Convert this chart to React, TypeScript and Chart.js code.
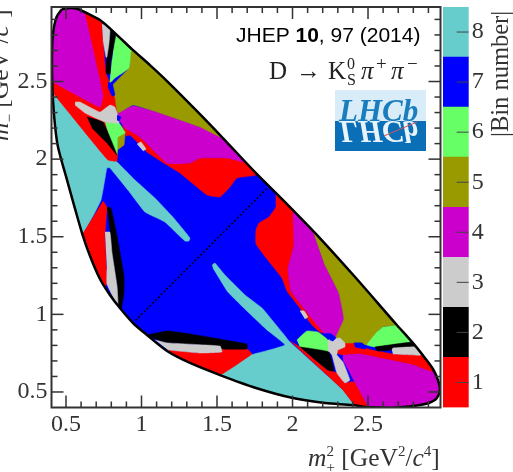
import React, { useEffect, useRef } from "react";
import { Chart, registerables } from "chart.js";

type P = [number, number];

const boundary: P[] = [[0.474,2.967],[0.526,2.973],[0.579,2.967],[0.626,2.947],[0.725,2.896],[0.824,2.812],[0.944,2.702],[1.056,2.606],[1.169,2.503],[1.387,2.290],[1.539,2.136],[1.758,1.910],[1.970,1.704],[2.175,1.498],[2.420,1.234],[2.685,0.938],[2.797,0.816],[2.877,0.719],[2.930,0.648],[2.963,0.577],[2.976,0.519],[2.956,0.461],[2.903,0.429],[2.797,0.410],[2.645,0.397],[2.486,0.403],[2.400,0.416],[2.215,0.429],[2.003,0.461],[1.758,0.526],[1.520,0.609],[1.321,0.687],[1.169,0.764],[1.036,0.867],[0.944,0.944],[0.857,1.041],[0.791,1.125],[0.725,1.228],[0.659,1.376],[0.606,1.524],[0.553,1.704],[0.507,1.865],[0.447,2.078],[0.427,2.219],[0.414,2.380],[0.407,2.593],[0.412,2.790],[0.437,2.915],[0.474,2.967]];
const diagonal: P[] = [[0.96,0.96],[1.84,1.82]];

const cyanLeft: P[] = [[0.328,2.445],[0.414,2.426],[0.573,2.252],[0.778,2.001],[0.824,1.994],[0.957,1.865],[1.089,1.749],[1.202,1.633],[1.321,1.492],[1.314,1.472],[1.288,1.472],[1.155,1.595],[1.023,1.659],[0.910,1.801],[0.791,1.943],[0.771,1.943],[0.732,1.736],[0.613,1.524],[0.460,1.524]];
const cyanLower: P[] = [[1.467,1.318],[1.486,1.331],[1.553,1.253],[1.685,1.125],[1.798,1.041],[1.930,0.886],[1.983,0.822],[2.334,0.513],[2.413,0.410],[2.413,0.371],[1.917,0.416],[1.520,0.545],[1.520,0.609],[1.731,0.745],[1.718,0.738],[1.950,0.803],[1.831,0.899],[1.705,1.015],[1.572,1.144],[1.473,1.299]];

const redUpperLeft: P[] = [[0.328,2.426],[0.328,2.522],[0.626,3.0],[0.738,2.928],[0.738,2.870],[0.765,2.554],[0.824,2.413],[0.844,2.284],[0.838,1.988],[0.778,1.994],[0.414,2.426]];
const redBandUpper: P[] = [[0.871,2.219],[0.990,2.142],[1.169,1.975],[1.321,1.975],[1.387,2.007],[1.566,2.007],[1.705,1.975],[1.798,1.943],[1.758,1.897],[1.632,1.878],[1.586,1.820],[1.520,1.756],[1.433,1.769],[1.255,1.910],[1.169,1.962],[1.036,2.046],[0.924,2.155],[0.897,2.149]];
const redBandRight: P[] = [[1.870,1.865],[2.023,1.704],[2.009,1.440],[1.970,1.292],[1.990,1.150],[2.089,1.022],[2.208,0.880],[2.181,0.886],[2.129,0.931],[2.049,1.041],[1.963,1.150],[1.930,1.234],[1.857,1.324],[1.758,1.453],[1.758,1.543],[1.778,1.588],[1.844,1.627],[1.890,1.691],[1.890,1.769]];
const redLowerLeft: P[] = [[0.745,1.730],[0.771,1.691],[0.758,1.505],[0.771,1.196],[0.725,1.157],[0.526,1.505],[0.613,1.524]];
const redLowerMid: P[] = [[1.175,0.770],[1.387,0.751],[1.533,0.758],[1.533,0.777],[1.698,0.777],[1.731,0.745],[1.520,0.609],[1.354,0.609]];
const redLowerRight: P[] = [[1.983,0.828],[2.049,0.790],[2.135,0.719],[2.234,0.642],[2.281,0.629],[2.294,0.622],[2.347,0.558],[2.380,0.564],[2.413,0.564],[2.499,0.410],[2.526,0.371],[2.413,0.371],[2.413,0.410],[2.334,0.513]];
const redStripRight: P[] = [[2.347,0.816],[2.400,0.816],[2.499,0.777],[2.559,0.764],[2.665,0.745],[2.857,0.738],[2.976,0.674],[2.923,0.629],[2.797,0.674],[2.579,0.719],[2.446,0.745],[2.334,0.738],[2.294,0.751],[2.301,0.777],[2.347,0.790]];

const magentaTop: P[] = [[0.328,2.535],[0.414,2.496],[0.725,2.335],[0.745,2.413],[0.626,2.928],[0.593,3.02],[0.328,3.02]];
const magentaUpper: P[] = [[0.844,2.297],[0.944,2.342],[1.102,2.303],[1.387,2.207],[1.539,2.149],[1.731,1.994],[1.705,1.975],[1.566,2.007],[1.387,2.007],[1.321,1.975],[1.169,1.975],[0.990,2.142],[0.891,2.200],[0.851,2.252]];
const magentaRight: P[] = [[1.996,1.685],[2.122,1.569],[2.208,1.331],[2.307,1.138],[2.340,0.970],[2.287,0.848],[2.254,0.880],[2.208,0.880],[2.089,1.022],[1.990,1.150],[1.970,1.292],[2.009,1.440],[2.003,1.653]];
const magentaCorner: P[] = [[2.334,0.738],[2.446,0.745],[2.579,0.719],[2.797,0.674],[2.923,0.629],[3.04,0.629],[3.04,0.352],[2.526,0.352],[2.499,0.410],[2.413,0.564],[2.334,0.706]];

const oliveUpper: P[] = [[0.957,2.735],[1.572,2.168],[1.539,2.136],[1.387,2.207],[1.122,2.297],[0.944,2.348],[0.844,2.297],[0.824,2.400],[0.811,2.477],[0.917,2.587],[0.930,2.702]];
const oliveSmallA: P[] = [[0.844,2.155],[0.891,2.181],[0.884,2.091],[0.838,2.058]];
const oliveRight: P[] = [[2.122,1.569],[2.724,0.964],[2.685,0.931],[2.599,0.919],[2.559,0.886],[2.493,0.803],[2.407,0.816],[2.347,0.816],[2.287,0.848],[2.340,0.970],[2.307,1.138],[2.208,1.331]];
const oliveSmallB: P[] = [[2.069,0.854],[2.102,0.886],[2.148,0.880],[2.155,0.854],[2.115,0.835]];

const greenTop: P[] = [[0.824,2.799],[0.824,2.844],[0.944,2.728],[0.930,2.690],[0.917,2.587],[0.824,2.522],[0.791,2.490],[0.805,2.638]];
const greenCentre: P[] = [[0.758,2.239],[0.851,2.232],[0.891,2.168],[0.844,2.142],[0.838,2.026],[0.791,2.123]];
const greenRight: P[] = [[2.691,0.931],[2.744,0.951],[2.830,0.822],[2.797,0.822],[2.546,0.790],[2.493,0.803],[2.559,0.886],[2.599,0.919]];
const greenLower: P[] = [[2.029,0.835],[2.095,0.893],[2.168,0.886],[2.234,0.835],[2.241,0.758],[2.049,0.790]];

const blackTop: P[] = [[0.791,2.851],[0.831,2.812],[0.798,2.638],[0.791,2.548],[0.765,2.554],[0.771,2.657],[0.785,2.748]];
const blackCentre: P[] = [[0.639,2.271],[0.745,2.239],[0.838,2.026],[0.771,2.104],[0.672,2.200]];
const blackLeft: P[] = [[0.771,1.691],[0.798,1.685],[0.838,1.505],[0.884,1.247],[0.884,1.138],[0.864,1.028],[0.844,1.054],[0.838,1.183],[0.805,1.395],[0.791,1.530]];
const blackBottom: P[] = [[1.036,0.867],[1.169,0.893],[1.321,0.874],[1.698,0.809],[1.698,0.777],[1.533,0.777],[1.520,0.796],[1.169,0.816],[1.089,0.841]];
const blackRight: P[] = [[2.546,0.790],[2.797,0.822],[2.824,0.790],[2.665,0.783],[2.658,0.770],[2.559,0.764]];
const blackLower: P[] = [[2.049,0.790],[2.241,0.758],[2.274,0.635],[2.234,0.642],[2.135,0.719]];

const grayTop: P[] = [[0.738,2.870],[0.791,2.851],[0.785,2.748],[0.771,2.657],[0.765,2.657],[0.745,2.767]];
const grayLeft: P[] = [[0.758,1.530],[0.791,1.530],[0.805,1.395],[0.838,1.183],[0.844,1.054],[0.771,1.196],[0.771,1.292]];
const grayBottom: P[] = [[1.089,0.835],[1.169,0.816],[1.520,0.796],[1.533,0.758],[1.387,0.751],[1.175,0.770]];
const grayRight: P[] = [[2.658,0.770],[2.665,0.783],[2.824,0.790],[2.857,0.738],[2.665,0.745]];
const grayBlobUpper: P[] = [[0.560,2.368],[0.593,2.368],[0.725,2.303],[0.791,2.348],[0.824,2.335],[0.844,2.284],[0.851,2.232],[0.758,2.239],[0.626,2.297],[0.560,2.348]];
const grayBlobLower: P[] = [[2.234,0.835],[2.314,0.848],[2.347,0.816],[2.347,0.790],[2.301,0.770],[2.294,0.738],[2.334,0.693],[2.380,0.577],[2.347,0.558],[2.294,0.622],[2.261,0.738],[2.234,0.770]];
const grayChipA: P[] = [[0.970,2.097],[0.997,2.110],[1.030,2.065],[1.010,2.052]];
const grayChipB: P[] = [[2.049,1.022],[2.076,1.022],[2.102,0.983],[2.082,0.970]];

const blueSpotA: P[] = [[0.778,2.496],[0.805,2.490],[0.824,2.413],[0.805,2.406],[0.778,2.464]];
const blueSpotB: P[] = [[0.838,2.284],[0.864,2.271],[0.851,2.245],[0.838,2.252]];
const blueSpotC: P[] = [[2.407,0.816],[2.460,0.816],[2.493,0.790],[2.479,0.777],[2.413,0.790]];
const blueSpotD: P[] = [[2.241,0.854],[2.268,0.867],[2.287,0.848],[2.268,0.828],[2.248,0.835]];

const binNumbers = [1, 2, 3, 4, 5, 6, 7, 8];
const binColours = ["#ff0000", "#000000", "#cccccc", "#cc00cc", "#999900", "#66ff66", "#0000ff", "#66cccc"];
const xTickLabels = [0.5, 1, 1.5, 2, 2.5];
const yTickLabels = [0.5, 1, 1.5, 2, 2.5];

const paintOrder: [number, P[]][] = [
  [8, cyanLeft], [8, cyanLower],
  [1, redUpperLeft], [1, redBandUpper], [1, redBandRight], [1, redLowerLeft], [1, redLowerMid], [1, redLowerRight], [1, redStripRight],
  [4, magentaTop], [4, magentaUpper], [4, magentaRight], [4, magentaCorner],
  [5, oliveUpper], [5, oliveSmallA], [5, oliveRight], [5, oliveSmallB],
  [6, greenTop], [6, greenCentre], [6, greenRight], [6, greenLower],
  [2, blackTop], [2, blackCentre], [2, blackLeft], [2, blackBottom], [2, blackRight], [2, blackLower],
  [3, grayTop], [3, grayLeft], [3, grayBottom], [3, grayRight], [3, grayBlobUpper], [3, grayBlobLower], [3, grayChipA], [3, grayChipB],
  [7, blueSpotA], [7, blueSpotB], [7, blueSpotC], [7, blueSpotD],
];

const SERIF = '"Liberation Serif"';
const INK = "#333333";

type Run = { t: string; size: number; style?: string; dy?: number; hold?: boolean; family?: string; at?: number };

function drawRuns(ctx: CanvasRenderingContext2D, x0: number, y: number, runs: Run[]) {
  let x = x0;
  for (const r of runs) {
    if (r.at !== undefined) x = r.at;
    ctx.font = `${r.style ?? ""} ${r.size}px ${r.family ?? SERIF}`;
    ctx.fillText(r.t, x, y + (r.dy ?? 0));
    if (!r.hold) x += ctx.measureText(r.t).width;
  }
}

function titleRuns(sub: string): Run[] {
  return [
    { t: "m", size: 25.5, style: "italic" },
    { t: "2", size: 15, dy: -10, hold: true },
    { t: sub, size: 15, dy: 6 },
    { t: " [GeV", size: 25.5 },
    { t: "2", size: 15, dy: -10 },
    { t: "/", size: 25.5 },
    { t: "c", size: 25.5, style: "italic" },
    { t: "4", size: 15, dy: -10 },
    { t: "]", size: 25.5 },
  ];
}

// Must be registered before the Filler so that fills are clipped too.
const dalitzClip = {
  id: "dalitzClip",
  beforeDatasetDraw(chart: any, args: any) {
    const ds = chart.data.datasets[args.index];
    if (!ds.clipToBoundary) return;
    const { x, y } = chart.scales;
    const ctx = chart.ctx;
    ctx.save();
    ctx.beginPath();
    boundary.forEach(([a, b], i) => {
      const px = x.getPixelForValue(a);
      const py = y.getPixelForValue(b);
      if (i === 0) ctx.moveTo(px, py);
      else ctx.lineTo(px, py);
    });
    ctx.closePath();
    ctx.clip();
  },
  afterDatasetDraw(chart: any, args: any) {
    if (chart.data.datasets[args.index].clipToBoundary) chart.ctx.restore();
  },
};
Chart.register(dalitzClip as any);
Chart.register(...registerables);

const frameAndText = {
  id: "frameAndText",
  afterDraw(chart: any) {
    const { ctx, chartArea: a } = chart;
    const { x, y } = chart.scales;
    ctx.save();
    ctx.setLineDash([]);
    ctx.fillStyle = "#333333";
    for (let k = 5; k < 30; k++) {
      const v = k / 10;
      const len = k % 5 === 0 ? 12 : 6;
      const px = x.getPixelForValue(v);
      const py = y.getPixelForValue(v);
      ctx.fillRect(px - 0.75, a.bottom - len, 1.5, len);
      ctx.fillRect(px - 0.75, a.top, 1.5, len);
      ctx.fillRect(a.left, py - 0.75, len, 1.5);
      ctx.fillRect(a.right - len, py - 0.75, len, 1.5);
    }
    ctx.strokeStyle = "#333333";
    ctx.lineWidth = 2;
    ctx.strokeRect(a.left, a.top, a.right - a.left, a.bottom - a.top);

    ctx.fillStyle = INK;
    ctx.textBaseline = "alphabetic";
    ctx.textAlign = "left";
    drawRuns(ctx, 308, 466, titleRuns("+"));
    ctx.save();
    ctx.translate(8, 141);
    ctx.rotate(-Math.PI / 2);
    drawRuns(ctx, 0, 0, titleRuns("\u2212"));
    ctx.restore();

    ctx.fillStyle = "#000000";
    const sans = '"Liberation Sans"';
    drawRuns(ctx, 236, 42, [
      { t: "JHEP ", size: 21, family: sans },
      { t: "10", size: 21, style: "bold", family: sans },
      { t: ", 97 (2014)", size: 21, family: sans },
    ]);
    ctx.fillStyle = "#222222";
    drawRuns(ctx, 269, 79, [
      { t: "D", size: 25 },
      { t: "\u2192", size: 25, at: 296 },
      { t: "K", size: 25, at: 328 },
      { t: "0", size: 16, dy: -10, hold: true, at: 347 },
      { t: "S", size: 16, dy: 6, at: 347 },
      { t: "\u03c0", size: 25, style: "italic", at: 361 },
      { t: "+", size: 19, dy: -9, at: 376 },
      { t: "\u03c0", size: 25, style: "italic", at: 391 },
      { t: "\u2212", size: 19, dy: -9, at: 407 },
    ]);

    // experiment logo
    ctx.fillStyle = "#d9edf9";
    ctx.fillRect(335, 90, 91, 31);
    ctx.fillStyle = "#0a6fb6";
    ctx.fillRect(335, 121, 91, 30);
    ctx.font = `italic bold 31px ${SERIF}`;
    ctx.fillStyle = "#1a7dbd";
    ctx.fillText("LHCb", 339, 121);
    ctx.save();
    ctx.translate(0, 242);
    ctx.scale(1, -1);
    ctx.fillStyle = "#e8f4fb";
    ctx.fillText("LHCb", 339, 121);
    ctx.restore();
    ctx.strokeStyle = "#d0555f";
    ctx.lineWidth = 1;
    ctx.beginPath();
    ctx.moveTo(384, 136);
    ctx.lineTo(417, 122);
    ctx.stroke();
    ctx.restore();
  },
};

const colourBarDecor = {
  id: "colourBarDecor",
  afterDraw(chart: any) {
    const { ctx, chartArea: a } = chart;
    const y = chart.scales.y;
    ctx.save();
    ctx.strokeStyle = "#444444";
    ctx.lineWidth = 1;
    binNumbers.forEach((b) => {
      const py = y.getPixelForValue(b);
      ctx.beginPath();
      ctx.moveTo(a.right - 12, py);
      ctx.lineTo(a.right, py);
      ctx.stroke();
    });
    ctx.fillStyle = INK;
    ctx.font = `24.5px ${SERIF}`;
    ctx.textAlign = "left";
    ctx.textBaseline = "alphabetic";
    ctx.translate(508, 137);
    ctx.rotate(-Math.PI / 2);
    ctx.fillText("|Bin number|", 0, 0);
    ctx.restore();
  },
};

export default function App() {
  const mainRef = useRef<HTMLCanvasElement>(null);
  const barRef = useRef<HTMLCanvasElement>(null);

  useEffect(() => {
    const toXY = (pts: P[]) => pts.map(([x, y]) => ({ x, y }));
    const fillSet = (pts: P[], colour: string) => ({
      data: toXY(pts),
      showLine: true,
      fill: "shape",
      backgroundColor: colour,
      borderColor: colour,
      borderWidth: 0.5,
      pointRadius: 0,
      tension: 0.1,
      clip: false,
      clipToBoundary: true,
    });
    const layers: any[] = [
      fillSet(boundary, binColours[6]),
      ...paintOrder.map(([bin, pts]) => fillSet(pts, binColours[bin - 1])),
      {
        data: toXY(diagonal),
        showLine: true,
        borderColor: "#000000",
        borderWidth: 1.5,
        borderDash: [2, 2],
        pointRadius: 0,
        fill: false,
      },
      {
        data: toXY(boundary),
        showLine: true,
        borderColor: "#000000",
        borderWidth: 2.5,
        pointRadius: 0,
        tension: 0.3,
        fill: false,
      },
    ];
    const tickFont = { family: SERIF, size: 24 };
    const noGrid = { display: false, drawTicks: false };
    const fitX = (s: any) => { s.height = 64.5; s.paddingLeft = 0; s.paddingRight = 0; };
    const fitY = (w: number) => (s: any) => { s.width = w; s.paddingTop = 0; s.paddingBottom = 0; };
    const main = new Chart(mainRef.current!, {
      type: "scatter",
      data: { datasets: layers.slice().reverse() },
      plugins: [frameAndText],
      options: {
        animation: false,
        responsive: false,
        layout: { padding: { left: 0, top: 7, right: 72.5, bottom: 0 } },
        plugins: { legend: { display: false }, tooltip: { enabled: false } },
        scales: {
          x: {
            type: "linear",
            min: 0.404,
            max: 2.98,
            afterFit: fitX,
            afterBuildTicks: (s: any) => { s.ticks = xTickLabels.map((value) => ({ value })); },
            grid: noGrid,
            border: { display: false },
            ticks: { font: tickFont, color: INK, padding: 3, maxRotation: 0, autoSkip: false, callback: (v: any) => String(v) },
          },
          y: {
            type: "linear",
            min: 0.4,
            max: 2.98,
            afterFit: fitY(51.5),
            afterBuildTicks: (s: any) => { s.ticks = yTickLabels.map((value) => ({ value })); },
            grid: noGrid,
            border: { display: false },
            ticks: { font: tickFont, color: INK, padding: 4, autoSkip: false, callback: (v: any) => String(v) },
          },
        },
      } as any,
    } as any);

    const bar = new Chart(barRef.current!, {
      type: "bar",
      data: {
        labels: ["bin"],
        datasets: binNumbers.map((b, i) => ({
          data: [[b - 0.5, b + 0.5]],
          backgroundColor: binColours[i],
          grouped: false,
          barPercentage: 1,
          categoryPercentage: 1,
        })),
      },
      plugins: [colourBarDecor],
      options: {
        animation: false,
        responsive: false,
        layout: { padding: { left: 443, top: 7, right: 0, bottom: 64.5 } },
        plugins: { legend: { display: false }, tooltip: { enabled: false } },
        scales: {
          x: { display: false },
          y: {
            type: "linear",
            position: "right",
            min: 0.5,
            max: 8.5,
            afterFit: fitY(44.3),
            afterBuildTicks: (s: any) => { s.ticks = binNumbers.map((value) => ({ value })); },
            grid: noGrid,
            border: { display: false },
            ticks: { font: tickFont, color: INK, padding: 3, autoSkip: false, callback: (v: any) => String(v) },
          },
        },
      } as any,
    } as any);

    return () => {
      main.destroy();
      bar.destroy();
    };
  }, []);

  const canvasStyle: React.CSSProperties = { position: "absolute", left: 0, top: 0 };
  return (
    <div style={{ position: "absolute", left: 0, top: 0, width: 513, height: 472, background: "#ffffff", overflow: "hidden" }}>
      <canvas ref={mainRef} width={513} height={472} style={canvasStyle} />
      <canvas ref={barRef} width={513} height={472} style={canvasStyle} />
    </div>
  );
}
